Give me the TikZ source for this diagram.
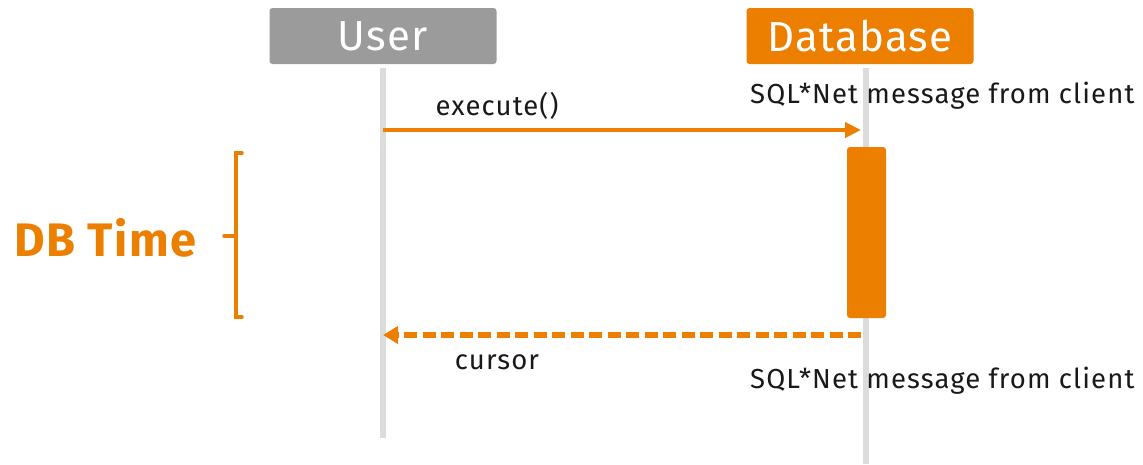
\documentclass[tikz,border=0pt]{standalone}
\usepackage{fontspec}
\setmainfont{Fira Sans}
\usetikzlibrary{arrows.meta, positioning}
\definecolor{dborange}{HTML}{EC7F00}
\definecolor{usergray}{HTML}{9B9B9B}
\definecolor{lifegray}{HTML}{DCDCDC}

\begin{document}
\begin{tikzpicture}[x=1pt, y=-1pt,
		actor/.style={rounded corners=3pt, minimum width=227pt, minimum height=56pt,
			inner sep=0pt, text=white, font=\fontsize{42}{46}\selectfont\addfontfeature{LetterSpace=3}},
		lifeline/.style={line width=6pt, draw=lifegray},
		msg/.style={line width=4pt, draw=dborange, -{Triangle[length=16pt,width=15pt]}},
		reply/.style={line width=6pt, draw=dborange, dash pattern=on 13pt off 5.5pt,
			-{Triangle[length=15pt,width=17pt]}},
		msglabel/.style={font=\fontsize{27.5}{30}\selectfont\addfontfeature{LetterSpace=4},
			inner sep=0pt, text=black!90}]
	\useasboundingbox (0,0) rectangle (1143,464);
	
	% the two participants
	\node[actor, fill=usergray] (user) at (383,36) {User};
	\node[actor, fill=dborange] (db) at (860,36) {Database};
	
	% lifelines
	\coordinate (user top) at (383,68);
	\coordinate (user end) at (383,438);
	\coordinate (db top) at (866,68);
	\coordinate (db end) at (866,464);
	\draw[lifeline] (user top) -- (user end);
	\draw[lifeline] (db top) -- (db end);
	
	% time spent inside the database
	\node[fill=dborange, rounded corners=3pt, inner sep=0pt,
		minimum width=39pt, minimum height=171pt] (busy) at (866.5,232.5) {};
	
	% call and answer
	\coordinate (call from) at (383,130);
	\coordinate (call to) at (861,130);
	\coordinate (back from) at (861,335);
	\coordinate (back to) at (383,335);
	\draw[msg] (call from) -- (call to);
	\draw[reply] (back from) -- (back to);
	\node[msglabel] (execute) at (497,106) {execute()};
	\node[msglabel] (cursor) at (497,362) {cursor};
	\node[msglabel, anchor=west] (wait1) at (750,96) {SQL*Net message from client};
	\node[msglabel, anchor=west] (wait2) at (750,381) {SQL*Net message from client};
	
	% DB Time brace
	\coordinate (br top) at (242,153);
	\coordinate (br bot) at (242,317);
	\coordinate (br mid) at (236,236);
	\draw[dborange, line width=3.5pt, line cap=round]
		(br top) -- (236,153) -- (236,317) -- (br bot);
	\draw[dborange, line width=3.5pt, line cap=round] (br mid) -- ++(-12,0);
	\node[text=dborange, font=\fontsize{47}{50}\selectfont\bfseries\addfontfeature{LetterSpace=3},
		anchor=west, inner sep=0pt] (dbtime) at (14,238) {DB Time};
\end{tikzpicture}
\end{document}
